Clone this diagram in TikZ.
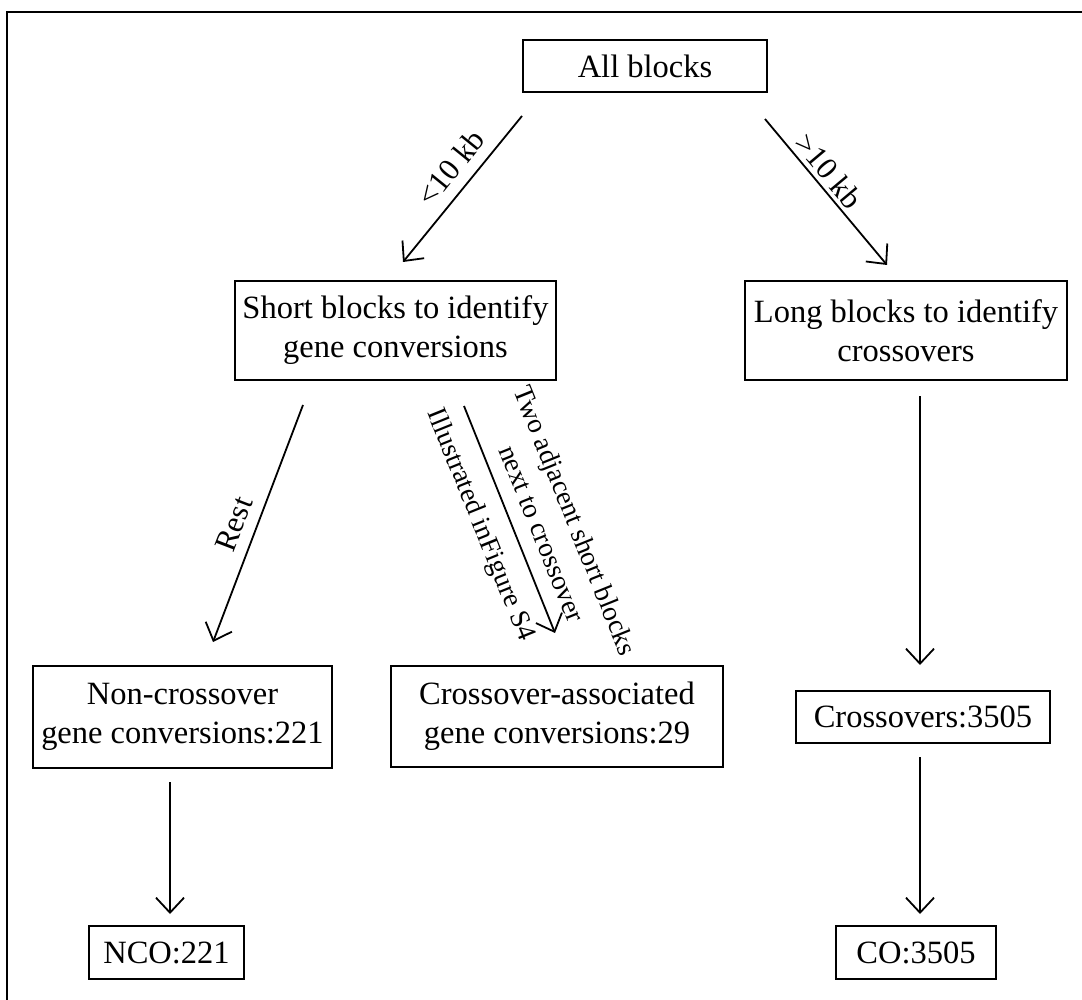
\documentclass[tikz,border=0pt]{standalone}
\usepackage{fontspec}
\setmainfont{Liberation Serif}
\usetikzlibrary{arrows.meta, calc}

\tikzset{
	box/.style={draw, line width=1pt, fill=white, align=center, inner sep=0pt, font=\fontsize{16.25}{19.5}\selectfont},
	flow/.style={-{Straight Barb[length=7.5pt, width=14pt]}, line width=0.9pt},
	tag/.style={inner sep=0pt, align=center, font=\fontsize{13.75}{18}\selectfont},
	bigtag/.style={tag, font=\fontsize{15.5}{18}\selectfont}
}

\begin{document}
\begin{tikzpicture}[x=0.5pt, y=-0.5pt]
	\useasboundingbox (0,0) rectangle (1082,1000);
	\draw [line width=1pt] (1082,12) -- (7,12) -- (7,1000);

	\node [box, minimum width=122pt, minimum height=26pt] (All) at (645,66) {All blocks};
	\node [box, minimum width=160.5pt, minimum height=49.5pt] (Short) at (395.5,330.5) {Short blocks to identify\\gene conversions};
	\node [box, minimum width=161pt, minimum height=49.5pt] (Long) at (906,330.5) {Long blocks to identify\\crossovers};
	\node [box, minimum width=149.5pt, minimum height=51pt] (NonCO) at (182.5,717) {Non-crossover\\gene conversions:221};
	\node [box, minimum width=166pt, minimum height=50.5pt] (AssocCO) at (557,716.5) {Crossover-associated\\gene conversions:29};
	\node [box, minimum width=127pt, minimum height=26pt] (Cross) at (923,717) {Crossovers:3505};
	\node [box, minimum width=77.5pt, minimum height=26.5pt] (NCO) at (166.5,952.5) {NCO:221};
	\node [box, minimum width=80pt, minimum height=26.5pt] (CO) at (916,952.5) {CO:3505};

	\coordinate (S01) at ($(All.south west) + (0,23)$);
	\coordinate (E01) at ($(Short.north) + (7.5,-18)$);
	\draw [flow] (S01) -- (E01);
	\node [bigtag, rotate=51] (T01) at (451,168) {<10 kb};

	\coordinate (S02) at ($(All.south east) + (-3,26)$);
	\coordinate (E02) at ($(Long.north) + (-19,-15)$);
	\draw [flow] (S02) -- (E02);
	\node [bigtag, rotate=-50] (T02) at (829,171) {>10 kb};

	\coordinate (S13) at ($(Short.south) + (-92.5,24)$);
	\coordinate (E13) at ($(NonCO.north) + (30.5,-23)$);
	\draw [flow] (S13) -- (E13);
	\node [bigtag, rotate=69] (T13) at (234,524) {Rest};

	\coordinate (S14) at ($(Short.south) + (68.5,25)$);
	\coordinate (E14) at ($(AssocCO.north) + (-2,-32)$);
	\draw [flow] (S14) -- (E14);
	\node [tag, rotate=-68] (T14a) at (559,527) {Two adjacent short blocks\\next to crossover};
	\node [tag, rotate=-68] (T14b) at (480,525) {Illustrated inFigure S4};

	\coordinate (S25) at ($(Long.south) + (14,15)$);
	\coordinate (E25) at ($(Cross.north) + (-3,-25)$);
	\draw [flow] (S25) -- (E25);

	\coordinate (S36) at ($(NonCO.south) + (-12.5,13)$);
	\coordinate (E36) at ($(NCO.north) + (3.5,-11)$);
	\draw [flow] (S36) -- (E36);

	\coordinate (S57) at ($(Cross.south) + (-3,13)$);
	\coordinate (E57) at ($(CO.north) + (4,-11)$);
	\draw [flow] (S57) -- (E57);

\end{tikzpicture}
\end{document}
